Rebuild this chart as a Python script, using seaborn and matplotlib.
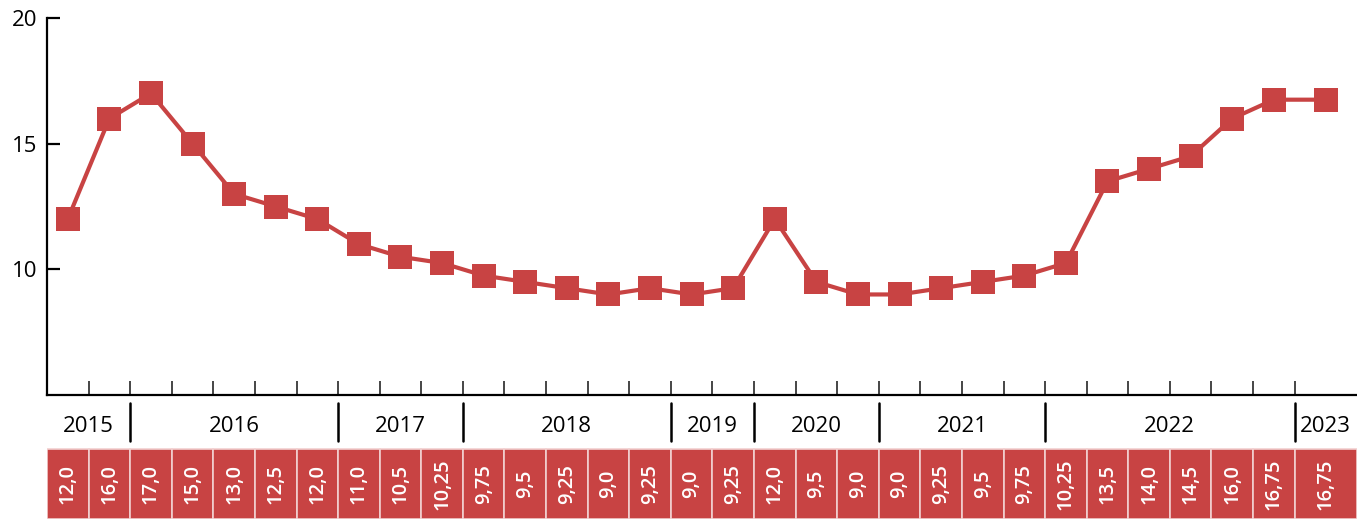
import numpy as np
import pandas as pd
import matplotlib.pyplot as plt
import seaborn as sns
from matplotlib.patches import Rectangle

# key rate values, one per cell of the table
rates = [12.0, 16.0, 17.0, 15.0, 13.0, 12.5, 12.0, 11.0, 10.5, 10.25,
         9.75, 9.5, 9.25, 9.0, 9.25, 9.0, 9.25, 12.0, 9.5, 9.0,
         9.0, 9.25, 9.5, 9.75, 10.25, 13.5, 14.0, 14.5, 16.0, 16.75, 16.75]
rate_labels = ["12,0", "16,0", "17,0", "15,0", "13,0", "12,5", "12,0", "11,0", "10,5", "10,25",
               "9,75", "9,5", "9,25", "9,0", "9,25", "9,0", "9,25", "12,0", "9,5", "9,0",
               "9,0", "9,25", "9,5", "9,75", "10,25", "13,5", "14,0", "14,5", "16,0", "16,75", "16,75"]
years = ["2015", "2016", "2017", "2018", "2019", "2020", "2021", "2022", "2023"]
year_counts = [2, 5, 3, 5, 2, 3, 4, 6, 1]

RED = "#c84343"

sns.set_style("ticks")
plt.rcParams["font.family"] = ["Open Sans", "DejaVu Sans"]

# cell widths: last cell is wider
widths = np.ones(len(rates))
widths[-1] = 1.5
edges = np.concatenate([[0], np.cumsum(widths)])
centers = edges[:-1] + widths / 2
df = pd.DataFrame({"x": centers, "rate": rates})

W, H = 1357, 519
fig = plt.figure(figsize=(W / 100, H / 100), dpi=100)
ax = fig.add_axes([47 / W, 1 - 395 / H, 1 - 47 / W, (395 - 18) / H])
ax2 = fig.add_axes([47 / W, 0, 1 - 47 / W, 124 / H])

sns.lineplot(data=df, x="x", y="rate", ax=ax, color=RED, linewidth=3,
             marker="s", markersize=17, markeredgewidth=0)

ax.set_xlim(0, edges[-1])
ax.set_ylim(5, 20)
ax.set_yticks([10, 15, 20])
ax.set_xticks(edges[1:-1])
ax.set_xticklabels([])
ax.set_xlabel("")
ax.set_ylabel("")
for s in ["top", "right"]:
    ax.spines[s].set_visible(False)
for s in ["left", "bottom"]:
    ax.spines[s].set_linewidth(1.6)
    ax.spines[s].set_color("black")
ax.tick_params(axis="y", direction="in", length=9.5, width=1.6, pad=7,
               labelsize=16, colors="black")
ax.tick_params(axis="x", direction="in", length=10, width=1.2)

# year row and value table
ax2.set_xlim(0, edges[-1])
ax2.set_ylim(124, 0)
ax2.axis("off")

bounds = np.concatenate([[0], np.cumsum(year_counts)])
for i, yr in enumerate(years):
    x0, x1 = edges[bounds[i]], edges[bounds[i + 1]]
    ax2.text((x0 + x1) / 2, 31, yr, ha="center", va="center", fontsize=16, color="black")
for b in bounds[1:-1]:
    ax2.plot([edges[b], edges[b]], [8, 46], color="black", linewidth=1.8)

for i, lab in enumerate(rate_labels):
    ax2.add_patch(Rectangle((edges[i], 54), widths[i], 70, facecolor=RED,
                            edgecolor="#f2d0d0", linewidth=1.2))
    ax2.text(centers[i], 89, lab, rotation=90, ha="center", va="center",
             fontsize=14.5, color="white", fontweight="semibold")

fig.savefig("out.png", dpi=100)
